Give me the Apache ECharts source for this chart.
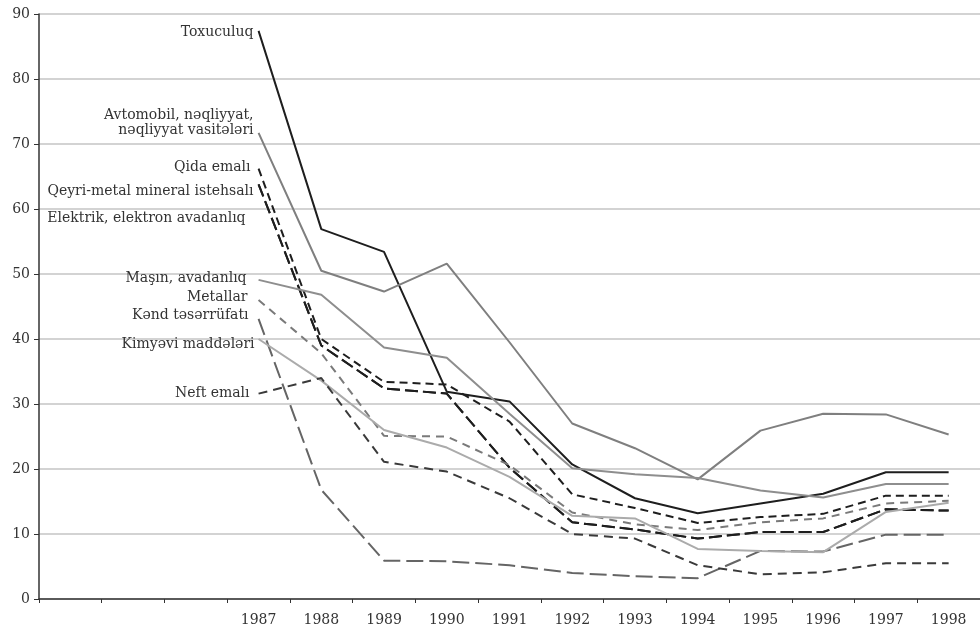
<!DOCTYPE html>
<html>
<head>
<meta charset="utf-8">
<script src="https://cdn.jsdelivr.net/npm/echarts@6/dist/echarts.min.js"></script>
<style>
html,body{margin:0;padding:0;background:#fff;}
#main{width:980px;height:631px;}
</style>
</head>
<body>
<div id="main"></div>
<script>
// illər (oxda ilk 3 boş kateqoriya etiketlər üçündür)
var years = ['1987','1988','1989','1990','1991','1992','1993','1994','1995','1996','1997','1998'];
var blankCats = ['', '', ''];

var toxuculuq = [87.4, 56.9, 53.4, 31.9, 30.4, 20.7, 15.5, 13.2, 14.7, 16.2, 19.5, 19.5];
var avtomobil = [71.7, 50.5, 47.3, 51.6, 39.5, 27.0, 23.2, 18.4, 25.9, 28.5, 28.4, 25.3];
var qida = [66.2, 40.0, 33.4, 33.0, 27.3, 16.1, 14.0, 11.7, 12.6, 13.1, 15.9, 15.9];
var qeyriMetal = [63.8, 39.0, 32.4, 31.6, 20.2, 11.8, 10.7, 9.3, 10.3, 10.3, 13.8, 13.6];
var elektrik = [63.8, 39.0, 32.4, 31.6, 20.2, 11.8, 10.7, 9.3, 10.3, 10.3, 13.8, 13.6];
var masin = [49.1, 46.8, 38.7, 37.1, 28.5, 20.1, 19.2, 18.6, 16.7, 15.6, 17.7, 17.7];
var metallar = [46.0, 37.8, 25.1, 25.0, 20.6, 13.3, 11.5, 10.6, 11.8, 12.4, 14.7, 15.1];
var kend = [43.1, 16.8, 5.9, 5.8, 5.2, 4.0, 3.5, 3.2, 7.4, 7.3, 9.9, 9.9];
var kimyevi = [40.0, 33.6, 26.0, 23.3, 18.8, 12.8, 12.4, 7.7, 7.4, 7.2, 13.4, 14.8];
var neft = [31.6, 34.0, 21.1, 19.6, 15.5, 10.0, 9.3, 5.2, 3.8, 4.1, 5.5, 5.5];

var FONT = 'DejaVu Serif';

// ad, data, rəng, xətt tipi, etiket yerdəyişməsi
var lines = [
	{name:'Toxuculuq', data:toxuculuq, color:'#1e1e1e', type:'solid', off:[0,1]},
	{name:'Avtomobil, nəqliyyat,\nnəqliyyat vasitələri', data:avtomobil, color:'#7f7f7f', type:'solid', off:[0,-10]},
	{name:'Qida emalı', data:qida, color:'#1e1e1e', type:[8,5], off:[-3,-1]},
	{name:'Qeyri-metal mineral istehsalı', data:qeyriMetal, color:'#1e1e1e', type:[13,5], off:[0,7]},
	{name:'Elektrik, elektron avadanlıq', data:elektrik, color:'#1e1e1e', type:[13,5], off:[-8,34]},
	{name:'Maşın, avadanlıq', data:masin, color:'#8e8e8e', type:'solid', off:[-7,-1]},
	{name:'Metallar', data:metallar, color:'#7a7a7a', type:[8,6], off:[-6,-3]},
	{name:'Kənd təsərrüfatı', data:kend, color:'#656565', type:[17,6], off:[-5,-3]},
	{name:'Kimyəvi maddələri', data:kimyevi, color:'#ababab', type:'solid', off:[1,5]},
	{name:'Neft emalı', data:neft, color:'#3a3a3a', type:[9,6], off:[-4,0]}
];

var series = lines.map(function(l){
	var d = blankCats.map(function(){ return '-'; });
	l.data.forEach(function(v, i){
		if(i == 0){
			d.push({value:v, label:{show:true, position:'left', distance:5, offset:l.off,
				formatter:l.name, align:'right', fontFamily:FONT, fontSize:14, color:'#333', lineHeight:15}});
		} else {
			d.push(v);
		}
	});
	return {
		name:l.name,
		type:'line',
		data:d,
		symbol:'circle',
		symbolSize:0,
		showSymbol:true,
		showAllSymbol:true,
		silent:true,
		lineStyle:{color:l.color, width:2, type:l.type},
		itemStyle:{color:l.color},
		label:{show:false},
		z: 3
	};
});

var myChart = echarts.init(document.getElementById('main'));
myChart.setOption({
	animation:false,
	grid:{left:39, right:-10, top:14, bottom:32},
	xAxis:{
		type:'category',
		data:blankCats.concat(years),
		boundaryGap:true,
		axisLine:{lineStyle:{color:'#333', width:1.5}},
		axisTick:{show:true, length:4, lineStyle:{color:'#333'}},
		axisLabel:{fontFamily:FONT, fontSize:14, color:'#333', margin:14, interval:0},
		splitLine:{show:false}
	},
	yAxis:{
		type:'value',
		min:0, max:90, interval:10,
		axisLine:{show:true, lineStyle:{color:'#333', width:1.5}},
		axisTick:{show:true, length:5, lineStyle:{color:'#333'}},
		axisLabel:{fontFamily:FONT, fontSize:14, color:'#333', margin:9},
		splitLine:{show:true, lineStyle:{color:'#c4c4c4', width:1.5}}
	},
	series:series
});
</script>
</body>
</html>
